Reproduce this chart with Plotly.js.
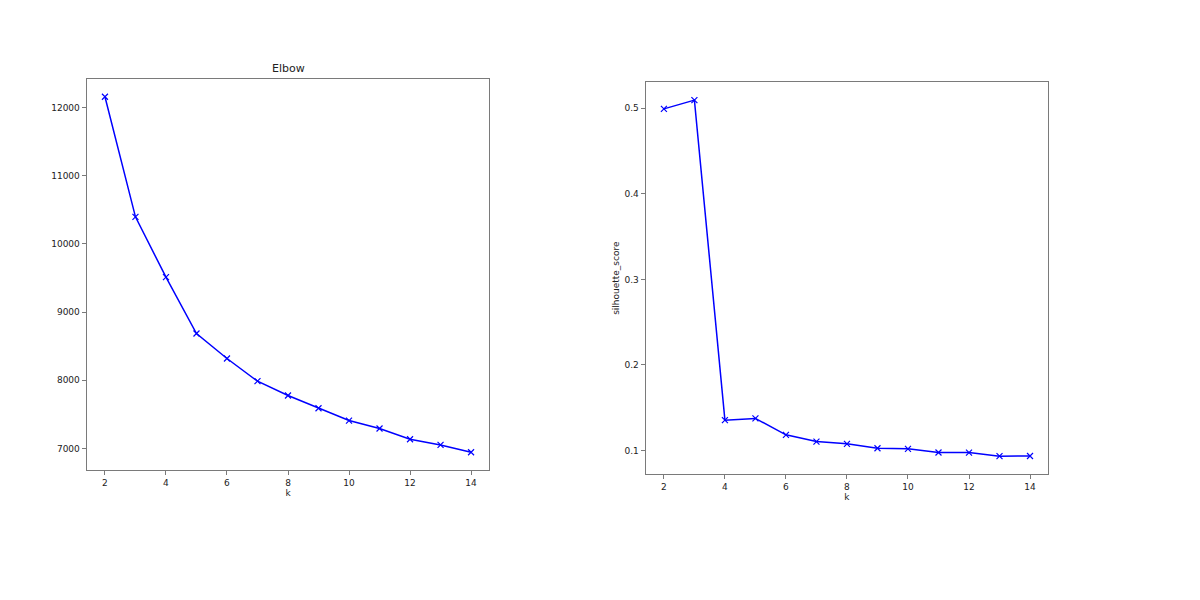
<!DOCTYPE html>
<html>
<head>
<meta charset="utf-8">
<script src="https://cdn.plot.ly/plotly-3.0.1.min.js"></script>
<style>html,body{margin:0;padding:0;background:#fff;}#chart{width:1200px;height:600px;}</style>
</head>
<body>
<div id="chart"></div>
<script>
const kValues = [2, 3, 4, 5, 6, 7, 8, 9, 10, 11, 12, 13, 14];
const inertia = [12156, 10396, 9512, 8686, 8320, 7987, 7777, 7591, 7410, 7293, 7136, 7053, 6946];
const silhouette = [0.4992, 0.5094, 0.1355, 0.1375, 0.1184, 0.1105, 0.1078, 0.1027, 0.1020, 0.0977, 0.0976, 0.0934, 0.0936];
const xTicks = [2, 4, 6, 8, 10, 12, 14];
const elbowTitle = "Elbow";
const xLabel = "k";
const silLabel = "silhouette_score";

function padRange(arr) {
  const mn = Math.min(...arr), mx = Math.max(...arr);
  const m = (mx - mn) * 0.05;
  return [mn - m, mx + m];
}

const lineColor = "#0000ff";
const spine = "#7a7a7a";
const tickFont = {family: "DejaVu Sans", size: 9, color: "#222"};

const baseAxis = {
  showline: true, mirror: true, linecolor: spine, linewidth: 1,
  ticks: "outside", ticklen: 4, tickwidth: 1, tickcolor: spine,
  showgrid: false, zeroline: false, tickfont: tickFont, fixedrange: true
};

const traces = [
  {x: kValues, y: inertia, xaxis: "x", yaxis: "y", mode: "lines+markers", type: "scatter",
   line: {color: lineColor, width: 1.5},
   marker: {symbol: "x-thin", size: 6, color: lineColor, line: {color: lineColor, width: 1.2}}},
  {x: kValues, y: silhouette, xaxis: "x2", yaxis: "y2", mode: "lines+markers", type: "scatter",
   line: {color: lineColor, width: 1.5},
   marker: {symbol: "x-thin", size: 6, color: lineColor, line: {color: lineColor, width: 1.2}}}
];

const layout = {
  width: 1200, height: 600,
  margin: {l: 0, r: 0, t: 0, b: 0},
  paper_bgcolor: "#fff", plot_bgcolor: "#fff",
  showlegend: false,
  font: {family: "DejaVu Sans", size: 9, color: "#222"},
  xaxis: Object.assign({}, baseAxis, {domain: [0.0722, 0.4078], range: padRange(kValues),
    tickvals: xTicks, anchor: "y",
    title: {text: xLabel, font: {family: "DejaVu Sans", size: 9, color: "#222"}, standoff: 1}}),
  yaxis: Object.assign({}, baseAxis, {domain: [0.2167, 0.8683], range: padRange(inertia),
    dtick: 1000, tick0: 0, tickformat: "d", anchor: "x"}),
  xaxis2: Object.assign({}, baseAxis, {domain: [0.538, 0.8736], range: padRange(kValues),
    tickvals: xTicks, anchor: "y2",
    title: {text: xLabel, font: {family: "DejaVu Sans", size: 9, color: "#222"}, standoff: 1}}),
  yaxis2: Object.assign({}, baseAxis, {domain: [0.21, 0.8628], range: padRange(silhouette),
    dtick: 0.1, tick0: 0, tickformat: ".1f", anchor: "x2",
    title: {text: silLabel, font: {family: "DejaVu Sans", size: 9, color: "#222"}, standoff: 3}}),
  annotations: [
    {text: elbowTitle, xref: "x domain", yref: "y domain", x: 0.5, y: 1, yshift: 2,
     xanchor: "center", yanchor: "bottom", showarrow: false,
     font: {family: "DejaVu Sans", size: 11, color: "#222"}}
  ]
};

Plotly.newPlot("chart", traces, layout, {displayModeBar: false, staticPlot: true});
</script>
</body>
</html>
